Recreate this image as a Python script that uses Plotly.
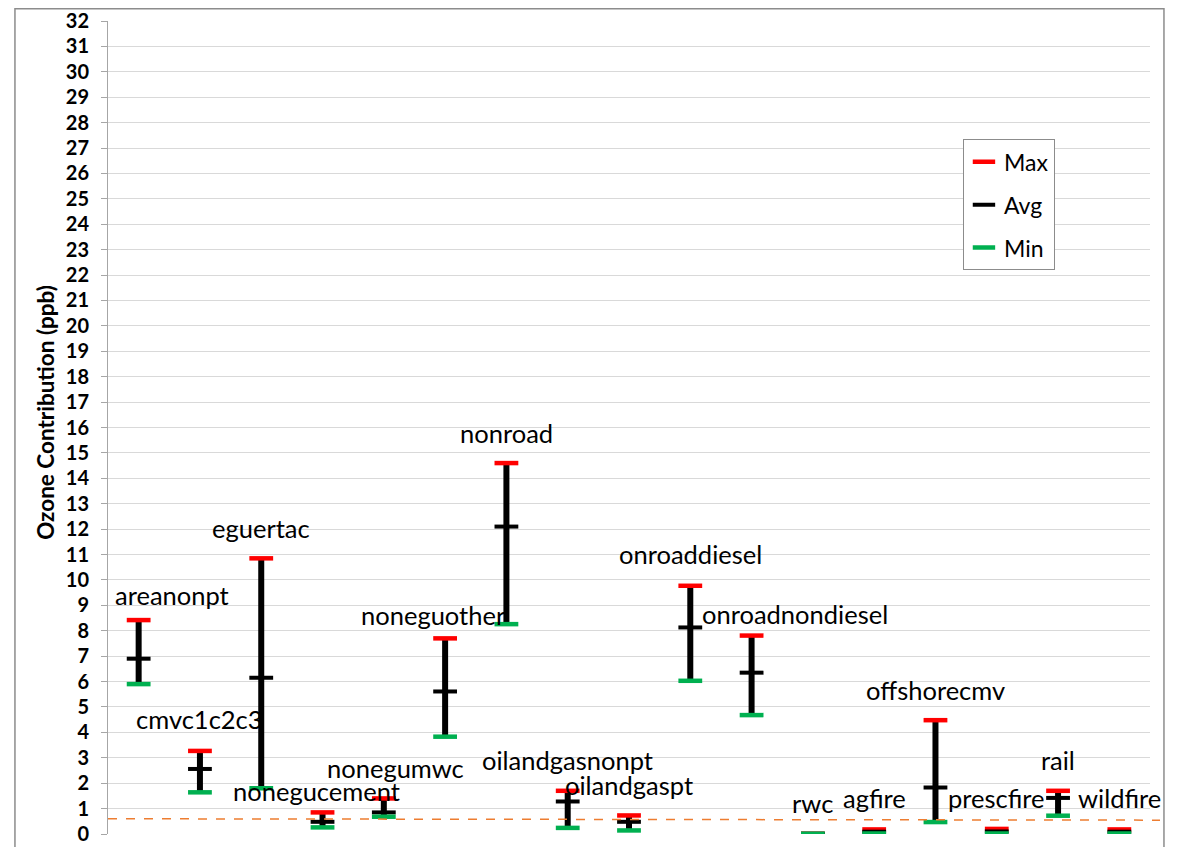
import plotly.graph_objects as go

# ---- data ----
categories = ["areanonpt", "cmvc1c2c3", "eguertac", "nonegucement", "nonegumwc",
              "noneguother", "nonroad", "oilandgasnonpt", "oilandgaspt", "onroaddiesel",
              "onroadnondiesel", "rwc", "agfire", "offshorecmv", "prescfire", "rail", "wildfire"]
max_vals = [8.42, 3.27, 10.85, 0.85, 1.40, 7.70, 14.60, 1.70, 0.73, 9.77,
            7.81, 0.01, 0.18, 4.48, 0.20, 1.70, 0.18]
avg_vals = [6.90, 2.56, 6.15, 0.48, 0.85, 5.61, 12.10, 1.28, 0.48, 8.13,
            6.35, 0.01, 0.09, 1.83, 0.10, 1.42, 0.09]
min_vals = [5.90, 1.64, 1.80, 0.26, 0.68, 3.83, 8.26, 0.24, 0.14, 6.03,
            4.68, 0.01, 0.02, 0.47, 0.02, 0.72, 0.02]
threshold = [0.60, 0.545]
y_ticks = list(range(0, 33))

# ---- label placement (layout only) ----
label_y = [9.40, 4.52, 12.04, 1.68, 2.58, 8.62, 15.77, 2.90, 1.92, 11.03,
           8.64, 1.24, 1.40, 5.67, 1.40, 2.90, 1.40]
label_dx = [33, 0, 0, -6, 12, -12, 0, 0, 0, 0, 43, 0, 0, 0, 0, 0, 0]

FONT = "Lato"
xs = list(range(len(categories)))

fig = go.Figure()

# vertical range lines min..max
fig.add_trace(go.Scatter(
    x=xs, y=avg_vals, mode="markers",
    marker=dict(size=1, color="rgba(0,0,0,0)"),
    error_y=dict(type="data", symmetric=False,
                 array=[m - a for m, a in zip(max_vals, avg_vals)],
                 arrayminus=[a - n for a, n in zip(avg_vals, min_vals)],
                 width=0, thickness=6, color="black"),
    showlegend=False, hoverinfo="skip"))

def dash_trace(vals, name, color, rank, thick):
    return go.Scatter(
        x=xs, y=vals, mode="markers", name=name, legendrank=rank,
        legendgroup=name,
        marker=dict(symbol="line-ew", size=17,
                    line=dict(width=thick, color=color), color=color))

fig.add_trace(dash_trace(max_vals, "Max", "#FF0000", 1, 4.5))
fig.add_trace(dash_trace(avg_vals, "Avg", "#000000", 2, 4))
fig.add_trace(dash_trace(min_vals, "Min", "#00B050", 3, 4.5))

for i, c in enumerate(categories):
    fig.add_annotation(x=xs[i], y=label_y[i], text=c, showarrow=False,
                       xshift=label_dx[i], xanchor="center", yanchor="middle",
                       font=dict(family=FONT, size=25.5, color="black"))

# threshold dashed line
fig.add_shape(type="line", xref="paper", yref="y", x0=0, x1=1.0096,
              y0=threshold[0], y1=threshold[1],
              line=dict(color="#ED7D31", width=1.5, dash="dash"))

# outer chart border
fig.add_shape(type="rect", xref="paper", yref="paper",
              x0=-0.0893, x1=1.0134, y0=-0.05, y1=1.0151,
              line=dict(color="#8C8C8C", width=1.5), fillcolor="rgba(0,0,0,0)", layer="below")

# y axis title
fig.add_annotation(xref="paper", yref="paper", x=-0.0595, y=0.518,
                   text="<b>Ozone Contribution (ppb)</b>", textangle=-90,
                   showarrow=False, xanchor="center", yanchor="middle",
                   font=dict(family=FONT, size=22.5, color="black"))

fig.update_layout(
    width=1165, height=839,
    margin=dict(l=100, r=23, t=13, b=13, autoexpand=False),
    paper_bgcolor="white", plot_bgcolor="white",
    showlegend=True,
    legend=dict(x=0.8205, y=0.8545, xanchor="left", yanchor="top",
                bgcolor="white", bordercolor="#8C8C8C", borderwidth=1,
                font=dict(family=FONT, size=23, color="black"),
                tracegroupgap=10, traceorder="grouped"),
    xaxis=dict(range=[-0.5, 16.5], showticklabels=False, showgrid=False,
               zeroline=False, showline=False, ticks="", automargin=False),
    yaxis=dict(range=[0, 32], tickvals=y_ticks, ticktext=[str(t) for t in y_ticks],
               showgrid=True, gridcolor="#D9D9D9", gridwidth=1, automargin=False,
               zeroline=False, showline=True, linecolor="#A6A6A6", linewidth=1,
               ticks="outside", ticklen=6, tickcolor="#A6A6A6",
               ticklabelstandoff=8, ticklabeloverflow="allow",
               tickfont=dict(family=FONT, size=20, color="black", weight="bold")),
)

fig.write_html("out.html")
